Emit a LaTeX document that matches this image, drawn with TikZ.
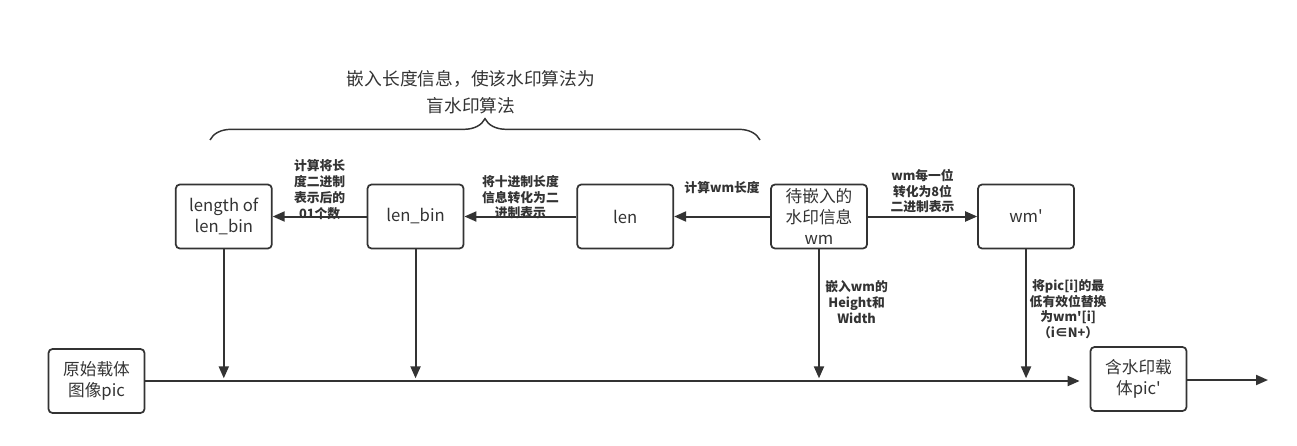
\documentclass[tikz,border=0pt]{standalone}
\usepackage{fontspec}
\setmainfont{Noto Sans CJK SC}
\usetikzlibrary{
  arrows.meta,
  positioning,
  decorations.pathreplacing
}
\definecolor{wmLine}{HTML}{333333}
\tikzset{
  wmbox/.style={
    draw=wmLine, line width=1.3pt, rounded corners=3pt, minimum width=72pt,
    minimum height=48pt, inner sep=2pt, align=center, text=wmLine,
    font=\fontsize{12.5}{15.5}\selectfont
  },
  wmflow/.style={-{Triangle[length=9pt, width=7.5pt]}, line width=1.5pt, wmLine},
  wmtag/.style={font=\fontsize{9.6}{11.9}\selectfont\bfseries, align=center, text=wmLine, inner sep=2pt},
  wmbrace/.style={decorate, decoration={brace, amplitude=16pt}, line width=1.1pt, wmLine}
}
\begin{document}
\begin{tikzpicture}[x=0.75pt, y=-0.75pt]
  \useasboundingbox (0,0) rectangle (1297,446);
  % top row
  \node[wmbox] (wm) at (819,216.5) {待嵌入的\\水印信息\\wm};
  \node[wmbox, left=72pt of wm] (len) {len};
  \node[wmbox, left=84pt of len] (lenbin) {len\_bin};
  \node[wmbox, left=70.5pt of lenbin] (lenlen) {length of\\len\_bin};
  \node[wmbox, right=82pt of wm] (wmp) {wm\textquotesingle};
  % carrier row
  \node[wmbox] (pic) at (96.5,381) {原始载体\\图像pic};
  \node[wmbox] (picout) at (1138.5,379) {含水印载\\体pic\textquotesingle};
  \coordinate (end) at (1268,380);

  \draw[wmflow] (wm) -- node[wmtag, yshift=22pt] {计算wm长度} (len);
  \draw[wmflow] (len) -- node[wmtag, yshift=14.5pt] {将十进制长度\\信息转化为二\\进制表示} (lenbin);
  \draw[wmflow] (lenbin) -- node[wmtag, yshift=20pt] {计算将长\\度二进制\\表示后的\\01个数} (lenlen);
  \draw[wmflow] (wm) -- node[wmtag, yshift=19pt] {wm每一位\\转化为8位\\二进制表示} (wmp);

  \draw[wmflow, shorten >=7.5pt] (pic.east) -- (pic.east -| picout.west);
  \draw[wmflow] (picout.east |- end) -- (end);

  \draw[wmflow, shorten >=2pt] (lenlen.south) -- (lenlen.south |- pic.east);
  \draw[wmflow, shorten >=2pt] (lenbin.south) -- (lenbin.south |- pic.east);
  \draw[wmflow, shorten >=2pt] (wm.south) -- node[wmtag, right, xshift=2pt, yshift=10pt] {嵌入wm的\\Height和\\Width} (wm.south |- pic.east);
  \draw[wmflow, shorten >=2pt] (wmp.south) -- node[wmtag, right, yshift=4.5pt] {将pic[i]的最\\低有效位替换\\为wm\textquotesingle[i]\\（i∈N+）} (wmp.south |- pic.east);

  % brace over the length part
  \draw[wmbrace] (210,140) -- (760,140);
  \node[align=center, text=wmLine, font=\fontsize{13.3}{20}\selectfont] (note) at (471,92)
    {嵌入长度信息，使该水印算法为\\盲水印算法};
\end{tikzpicture}
\end{document}
